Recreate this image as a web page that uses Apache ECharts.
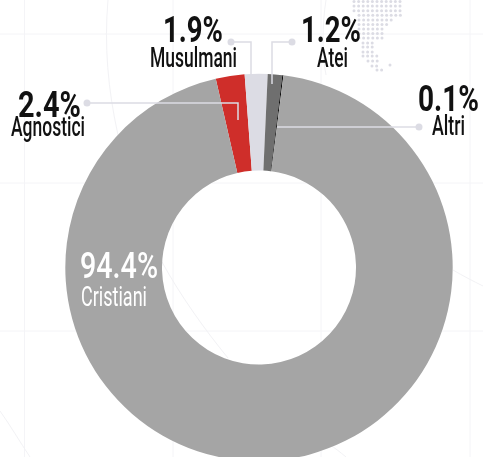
<!DOCTYPE html>
<html>
<head>
<meta charset="utf-8">
<style>html,body{margin:0;padding:0;background:#fff}#chart{width:483px;height:457px}</style>
<script src="https://cdn.jsdelivr.net/npm/echarts@6/dist/echarts.min.js"></script>
</head>
<body>
<div id="chart"></div>
<script>
// Religious affiliation shares, in percent
const categories = ['Agnostici', 'Musulmani', 'Atei', 'Altri', 'Cristiani'];
const shares = [2.4, 1.9, 1.2, 0.1, 94.4];
const sliceColors = ['#cf2e2a', '#dcdce4', '#6f6f6f', '#111111', '#a5a5a5'];

// Label placement: left edge, text width, vertical centre of the caps
const labelBoxes = {
  Agnostici: { color: '#111', numWeight: 'bold', nameWeight: 500, num: [18, 63, 108], name: [11, 74, 129] },
  Musulmani: { color: '#111', numWeight: 'bold', nameWeight: 500, num: [163, 60, 33], name: [150, 87, 60] },
  Atei:      { color: '#111', numWeight: 'bold', nameWeight: 500, num: [301, 60, 33], name: [317, 31, 60] },
  Altri:     { color: '#111', numWeight: 'bold', nameWeight: 500, num: [418, 61, 102], name: [432, 33, 128] },
  Cristiani: { color: '#fff', numWeight: 500, nameWeight: 'normal', num: [80, 78, 269], name: [81, 66, 299] }
};

// Leader lines: a dot, then elbow segments into the slice
const leaders = [
  [[87, 103], [238, 103], [238, 120]],
  [[231, 42], [251, 42], [251, 75]],
  [[292, 42], [272, 42], [272, 84]],
  [[419, 127], [277, 127]]
];

// Backdrop guide lines and the dotted land mass behind the chart
const gridX = [24.5, 173, 321, 470];
const gridY = [34, 183, 331];
const guideCurves = [
  [108, 0, 104, 45, 108, 90, 118, 135],
  [162, 262, 180, 295, 205, 330, 228, 358],
  [0, 411, 10, 425, 20, 442, 30, 457],
  [453, 270, 463, 276, 473, 281, 483, 286],
  [330, 445, 335, 448, 340, 452, 346, 457],
  [326, 0, 322, 25, 322, 55, 326, 75]
];
const dotRows = [
  [1.5, 354, 400], [6, 354, 400], [10.7, 354, 400], [15.3, 359, 400],
  [20, 359, 395], [24.5, 359, 390], [29, 359, 386], [33.5, 359, 386],
  [38, 359, 386], [43, 363, 373], [47, 363, 373], [52, 363, 373],
  [56, 363, 377], [61, 368, 377], [66, 372, 377], [65, 390, 390], [70, 377, 382]
];

const ringCenter = [259, 267.5];
const ringRadius = [97, 193.7];
const FONT = 'Roboto';

const measure = document.createElement('canvas').getContext('2d');
function fittedText(text, box, size, weight, color) {
  const font = weight + ' ' + size + 'px ' + FONT;
  measure.font = font;
  const natural = measure.measureText(text).width;
  return {
    type: 'text', z: 12, silent: true,
    x: box[0], y: box[2], scaleX: box[1] / natural, scaleY: 1,
    style: { text: text, x: 0, y: 0, font: font, fill: color, textAlign: 'left', textVerticalAlign: 'middle' }
  };
}

const graphics = [];
const bgLine = '#f4f4f7';
gridX.forEach(x => graphics.push({ type: 'line', z: 0, silent: true, shape: { x1: x, y1: 0, x2: x, y2: 457 }, style: { stroke: bgLine, lineWidth: 1 } }));
gridY.forEach(y => graphics.push({ type: 'line', z: 0, silent: true, shape: { x1: 0, y1: y, x2: 483, y2: y }, style: { stroke: bgLine, lineWidth: 1 } }));
guideCurves.forEach(c => graphics.push({
  type: 'bezierCurve', z: 0, silent: true,
  shape: { x1: c[0], y1: c[1], cpx1: c[2], cpy1: c[3], cpx2: c[4], cpy2: c[5], x2: c[6], y2: c[7] },
  style: { stroke: '#f2f2f5', lineWidth: 1, fill: null }
}));
dotRows.forEach(r => {
  for (let x = r[1]; x <= r[2] + 0.5; x += 4.6) {
    graphics.push({ type: 'circle', z: 1, silent: true, shape: { cx: x, cy: r[0], r: 1.5 }, style: { fill: '#dcdce4' } });
  }
});
leaders.forEach(points => {
  graphics.push({ type: 'polyline', z: 10, silent: true, shape: { points: points }, style: { stroke: '#dcdce4', lineWidth: 1.5, fill: null } });
  graphics.push({ type: 'circle', z: 10, silent: true, shape: { cx: points[0][0], cy: points[0][1], r: 3.5 }, style: { fill: '#dcdce4' } });
});
categories.forEach((name, i) => {
  const box = labelBoxes[name];
  graphics.push(fittedText(shares[i].toFixed(1) + '%', box.num, 36, box.numWeight, box.color));
  graphics.push(fittedText(name, box.name, 27, box.nameWeight, box.color));
});

const chart = echarts.init(document.getElementById('chart'), null, { renderer: 'canvas' });
chart.setOption({
  animation: false,
  backgroundColor: '#ffffff',
  graphic: { elements: graphics },
  series: [{
    type: 'pie',
    silent: true,
    center: ringCenter,
    radius: ringRadius,
    startAngle: 102.9,
    clockwise: true,
    label: { show: false },
    labelLine: { show: false },
    data: categories.map((name, i) => ({ name: name, value: shares[i], itemStyle: { color: sliceColors[i] } }))
  }]
});
</script>
</body>
</html>
